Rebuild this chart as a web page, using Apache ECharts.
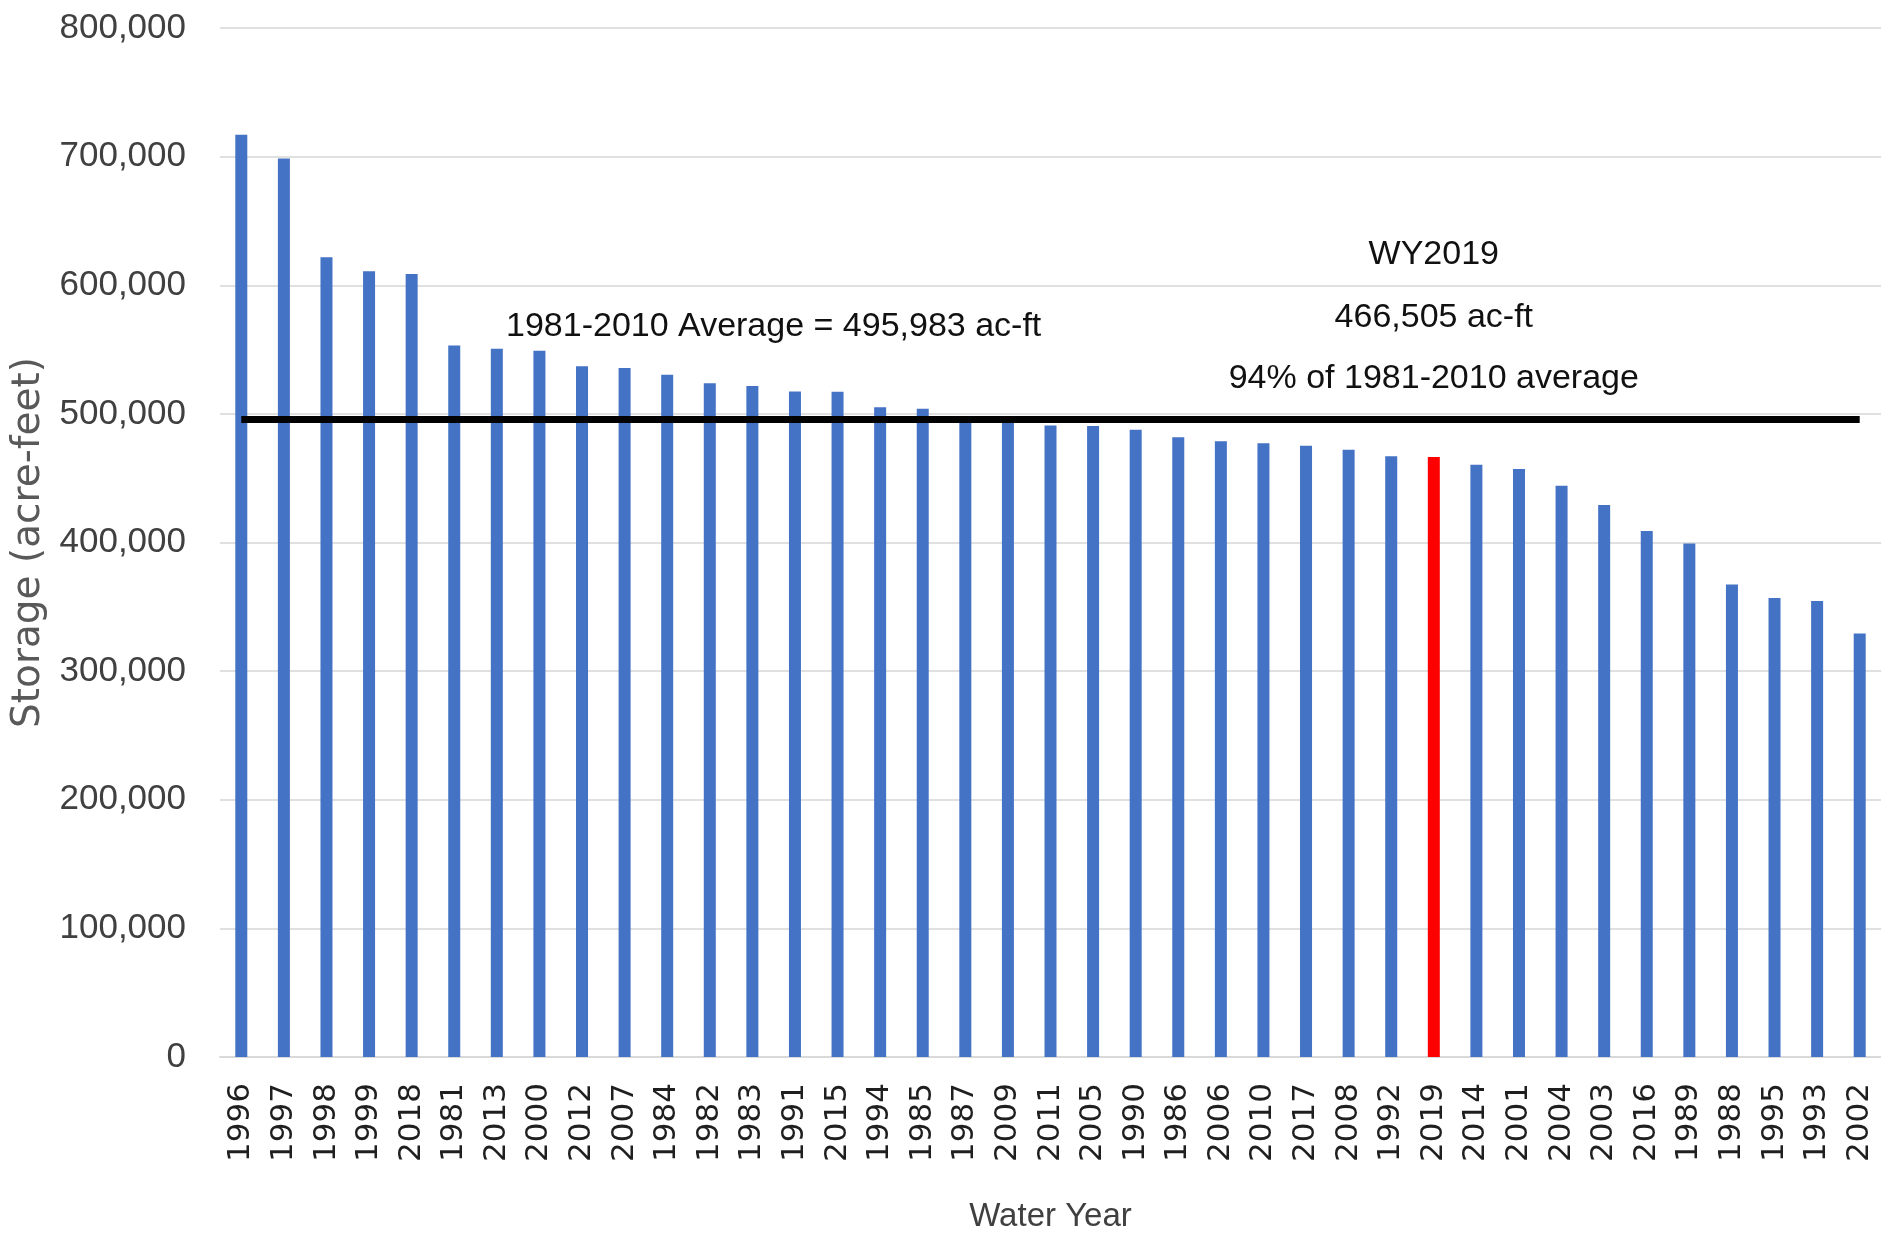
<!DOCTYPE html>
<html>
<head>
<meta charset="utf-8">
<style>
  html, body { margin: 0; padding: 0; background: #fff; }
  #chart { width: 1881px; height: 1236px; }
</style>
<script src="https://cdn.jsdelivr.net/npm/echarts@6/dist/echarts.min.js"></script>
</head>
<body>
<div id="chart"></div>
<script>
// water years, ranked by storage
const years = ['1996', '1997', '1998', '1999', '2018', '1981', '2013', '2000', '2012', '2007',
  '1984', '1982', '1983', '1991', '2015', '1994', '1985', '1987', '2009', '2011',
  '2005', '1990', '1986', '2006', '2010', '2017', '2008', '1992', '2019', '2014',
  '2001', '2004', '2003', '2016', '1989', '1988', '1995', '1993', '2002']
const storage = [717000, 698500, 621700, 610800, 608800, 553200, 550600, 549000, 537100, 535600,
  530400, 523900, 521600, 517400, 517200, 505200, 503900, 498000, 495000, 490900,
  490500, 487700, 481800, 478700, 477100, 475300, 472200, 467000, 466505, 460500,
  457200, 444200, 429100, 408900, 399300, 367400, 356900, 354600, 329200]
const average = 495983
const highlightYear = '2019'
const yTicks = [0, 100000, 200000, 300000, 400000, 500000, 600000, 700000, 800000]

const chart = echarts.init(document.getElementById('chart'))

const fmt = v => v.toLocaleString('en-US')

chart.setOption({
  animation: false,
  backgroundColor: '#fff',
  grid: { left: 220, right: 0, top: 28, bottom: 179, outerBoundsMode: 'none' },
  xAxis: {
    type: 'category',
    data: years,
    name: 'Water Year',
    nameLocation: 'middle',
    nameGap: 143,
    nameTextStyle: { fontFamily: 'Liberation Sans', fontSize: 33, color: '#404040' },
    axisLine: { lineStyle: { color: '#d9d9d9', width: 2 } },
    axisTick: { show: false },
    axisLabel: {
      rotate: 90,
      interval: 0,
      margin: 26,
      fontFamily: 'DejaVu Sans',
      fontSize: 31,
      color: '#1f1f1f'
    }
  },
  yAxis: {
    type: 'value',
    min: yTicks[0],
    max: yTicks[yTicks.length - 1],
    interval: 100000,
    name: 'Storage (acre-feet)',
    nameLocation: 'middle',
    nameGap: 164,
    nameTextStyle: { fontFamily: 'DejaVu Sans', fontSize: 39, color: '#595959' },
    axisLine: { show: false },
    axisTick: { show: false },
    splitLine: { lineStyle: { color: '#e0e0e0', width: 2 } },
    axisLabel: {
      margin: 34,
      formatter: fmt,
      fontFamily: 'Liberation Sans',
      fontSize: 35,
      color: '#404040'
    }
  },
  series: [
    {
      type: 'bar',
      barWidth: 12,
      data: storage.map((v, i) => ({
        value: v,
        itemStyle: { color: years[i] === highlightYear ? '#ff0000' : '#4472c4' }
      })),
      markLine: {
        silent: true,
        symbol: 'none',
        label: { show: false },
        lineStyle: { color: '#000', width: 7, type: 'solid' },
        data: [[
          { coord: [years[0], average] },
          { coord: [years[years.length - 1], average] }
        ]]
      }
    }
  ]
})

// annotation text, anchored in data space (x may sit between two categories)
const notes = [
  { text: '1981-2010 Average = ' + fmt(average) + ' ac-ft', at: [12.5, 567800] },
  { text: 'WY2019', at: [28, 623800] },
  { text: '466,505 ac-ft', at: [28, 575200] },
  { text: '94% of 1981-2010 average', at: [28, 527700] }
]

function notePixel(at) {
  const lo = Math.floor(at[0])
  const hi = Math.ceil(at[0])
  const a = chart.convertToPixel({ seriesIndex: 0 }, [lo, at[1]])
  const b = chart.convertToPixel({ seriesIndex: 0 }, [hi, at[1]])
  const t = at[0] - lo
  return [a[0] + (b[0] - a[0]) * t, a[1]]
}

chart.setOption({
  graphic: notes.map(n => {
    const p = notePixel(n.at)
    return {
      type: 'text',
      x: p[0],
      y: p[1],
      style: {
        text: n.text,
        fontFamily: 'Liberation Sans',
        fontSize: 34,
        fill: '#111',
        align: 'center',
        verticalAlign: 'middle'
      }
    }
  })
})

window.addEventListener('resize', () => chart.resize())
</script>
</body>
</html>
